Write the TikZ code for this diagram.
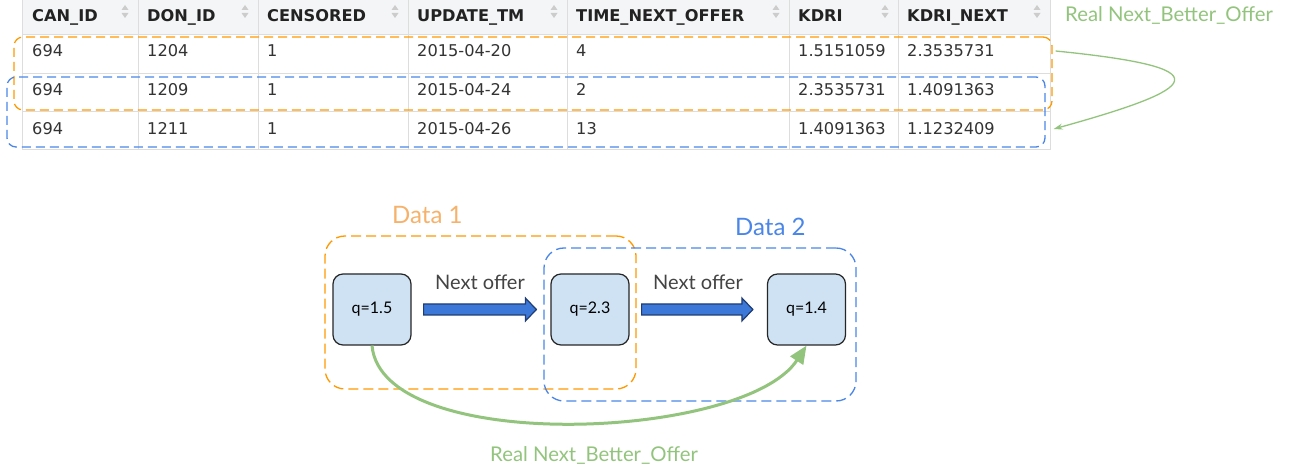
\documentclass[tikz,border=0pt]{standalone}
\usepackage{fontspec}
\setmainfont{Lato}
\newfontfamily\tabfont{DejaVu Sans}
\usetikzlibrary{arrows.meta,calc}

\definecolor{tabtext}{HTML}{333333}
\definecolor{hdrtext}{HTML}{222222}
\definecolor{tabgrid}{HTML}{DDDDDD}
\definecolor{hdrbg}{HTML}{F4F5F7}
\definecolor{sorticon}{HTML}{CCCCCC}
\definecolor{dorange}{HTML}{FF9900}
\definecolor{dblue}{HTML}{4A86E8}
\definecolor{lorange}{HTML}{F6B26B}
\definecolor{lgreen}{HTML}{93C47D}
\definecolor{qfill}{HTML}{CFE2F3}
\definecolor{arrfill}{HTML}{3C78D8}
\definecolor{arrline}{HTML}{1F3D73}
\definecolor{labgrey}{HTML}{444444}

\tikzset{
  hdr/.style={anchor=base west, inner sep=0pt, text=hdrtext, font=\tabfont\bfseries\fontsize{16.2}{17}\selectfont},
  cell/.style={anchor=base west, inner sep=0pt, text=tabtext, font=\tabfont\fontsize{16.2}{17}\selectfont},
  rowbox/.style={draw, rounded corners=9pt, line width=1.3pt, dash pattern=on 9pt off 5pt, inner sep=0pt},
  groupbox/.style={draw, rounded corners=20pt, line width=1.3pt, dash pattern=on 10pt off 5pt, inner sep=0pt},
  qbox/.style={draw=black!85, fill=qfill, rounded corners=10pt, line width=1.2pt,
    minimum width=78pt, minimum height=71pt, inner sep=0pt, font=\fontsize{16}{17}\selectfont},
  blockarrow/.style={fill=arrfill, draw=arrline, line width=1.2pt, line join=miter},
  offerlabel/.style={anchor=base west, inner sep=0pt, text=labgrey, font=\fontsize{20}{21}\selectfont},
  greenlabel/.style={anchor=base west, inner sep=0pt, text=lgreen, font=\fontsize{20.3}{21}\selectfont},
  datalabel/.style={anchor=base west, inner sep=0pt, font=\fontsize{24}{25}\selectfont},
}

\begin{document}
\begin{tikzpicture}[x=1pt, y=-1pt]
\useasboundingbox (0,0) rectangle (1294,470);
\fill[white] (0,0) rectangle (1294,470);

% ---------- table ----------
\fill[hdrbg] (22,0) rectangle (1050,35);
\foreach \yy in {35,74,112,150} \draw[tabgrid, line width=1pt] (22,\yy) -- (1050,\yy);
\foreach \xx in {22,138,258,408,567,789,898,1050} \draw[tabgrid, line width=1pt] (\xx,0) -- (\xx,150);

% sort icons in the header cells
\foreach \xx in {125,245,395,554,776,885,1037} {
  \fill[sorticon] (\xx-3.5,10) -- (\xx+3.5,10) -- (\xx,5) -- cycle;
  \fill[sorticon] (\xx-3.5,13) -- (\xx+3.5,13) -- (\xx,18) -- cycle;
}

% header texts
\node[hdr] (h1) at (32,22)  {CAN\_ID};
\node[hdr] (h2) at (147,22) {DON\_ID};
\node[hdr] (h3) at (267,22) {CENSORED};
\node[hdr] (h4) at (417,22) {UPDATE\_TM};
\node[hdr] (h5) at (576,22) {TIME\_NEXT\_OFFER};
\node[hdr] (h6) at (798,22) {KDRI};
\node[hdr] (h7) at (907,22) {KDRI\_NEXT};

% rows
\foreach \r/\yb/\don/\dt/\tn/\kd/\kn in {
  1/57/1204/2015-04-20/4/1.5151059/2.3535731,
  2/96/1209/2015-04-24/2/2.3535731/1.4091363,
  3/135/1211/2015-04-26/13/1.4091363/1.1232409} {
  \node[cell] (r\r c1) at (32,\yb)  {694};
  \node[cell] (r\r c2) at (147,\yb) {\don};
  \node[cell] (r\r c3) at (267,\yb) {1};
  \node[cell] (r\r c4) at (417,\yb) {\dt};
  \node[cell] (r\r c5) at (576,\yb) {\tn};
  \node[cell] (r\r c6) at (798,\yb) {\kd};
  \node[cell] (r\r c7) at (907,\yb) {\kn};
}

% dashed row selections
\node[rowbox, draw=dorange, minimum width=1038pt, minimum height=73pt] (rowsA) at (533,73.5) {};
\node[rowbox, draw=dblue, minimum width=1038pt, minimum height=70pt] (rowsB) at (526,112) {};

% green link between the two selections
\coordinate (gA) at ($(rowsA.east)+(3,-22.5)$);
\coordinate (gB) at ($(rowsB.east)+(8,17)$);
\draw[lgreen, line width=1.3pt, -{Stealth[length=9pt,width=6pt]}]
  (gA) .. controls +(170,17) and +(148,-41) .. (gB);
\node[greenlabel] (toplab) at (1065,22) {Real Next\_Better\_Offer};

% ---------- diagram ----------
\node[groupbox, draw=dorange, minimum width=311pt, minimum height=153pt] (data1) at (480.5,312.5) {};
\node[groupbox, draw=dblue, minimum width=312pt, minimum height=153pt] (data2) at (700,324.5) {};
\node[datalabel, text=lorange] (d1lab) at (392,224) {Data 1};
\node[datalabel, text=dblue] (d2lab) at (735,236) {Data 2};

\node[qbox] (q15) at (372,309.5) {q=1.5};
\node[qbox] (q23) at (590,309.5) {q=2.3};
\node[qbox] (q14) at (806.5,309.5) {q=1.4};

% block arrows between the boxes
\foreach \a/\b in {q15/q23, q23/q14} {
  \draw[blockarrow] let \p1=($(\a.east)+(12,0)$), \p2=($(\b.west)+(-14,0)$) in
    (\x1,\y1+5.5pt) -- (\x2-11pt,\y1+5.5pt) -- (\x2-11pt,\y1+11.5pt) -- (\x2,\y1)
    -- (\x2-11pt,\y1-11.5pt) -- (\x2-11pt,\y1-5.5pt) -- (\x1,\y1-5.5pt) -- cycle;
}
\node[offerlabel] (no1) at (435,290) {Next offer};
\node[offerlabel] (no2) at (653,290) {Next offer};

% real next better offer
\draw[lgreen, line width=3pt, -{Triangle[length=18pt,width=15pt]}]
  (q15.south) .. controls +(10,110) and +(-62,95) .. (q14.south);
\node[greenlabel] (botlab) at (490,461) {Real Next\_Better\_Offer};
\end{tikzpicture}
\end{document}
